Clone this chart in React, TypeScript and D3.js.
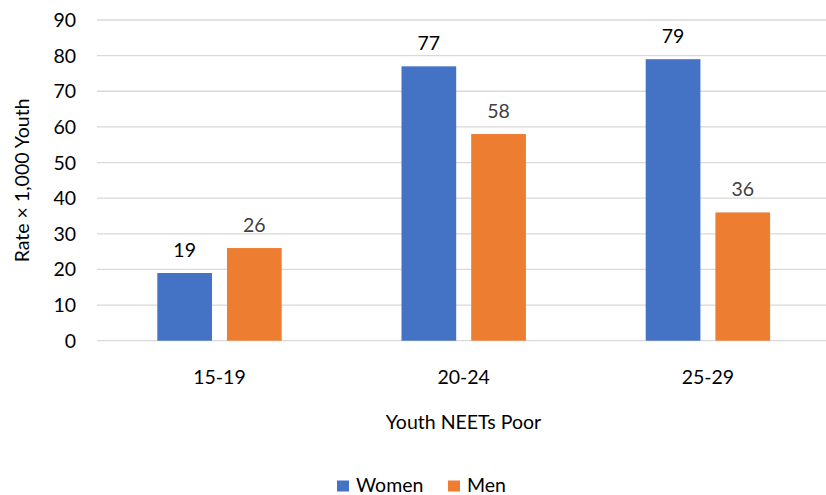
import React from "react";
import * as d3 from "d3";

const categories = ["15-19", "20-24", "25-29"];
const seriesNames = ["Women", "Men"];
const women = [19, 77, 79];
const men = [26, 58, 36];
const yTicks = [0, 10, 20, 30, 40, 50, 60, 70, 80, 90];

const colors: Record<string, string> = { Women: "#4472C4", Men: "#ED7D31" };
const labelColors: Record<string, string> = { Women: "#000000", Men: "#404040" };
const font = "Lato, 'Open Sans', sans-serif";
const fs = 19.5;

const App = () => {
  const width = 826;
  const height = 495;

  const x0 = d3.scaleBand<string>().domain(categories).range([97.4, 830]);
  const x1 = d3
    .scaleBand<string>()
    .domain(seriesNames)
    .range([59.9, 184.3])
    .paddingInner(0.215);
  const y = d3.scaleLinear().domain([0, 90]).range([340.7, 20]);

  const values: Record<string, number[]> = { Women: women, Men: men };

  return (
    <svg
      width={width}
      height={height}
      style={{ position: "absolute", left: 0, top: 0, background: "#fff" }}
      fontFamily={font}
    >
      {/* grid + y ticks */}
      {yTicks.map((t) => (
        <g key={t}>
          <line x1={97} x2={width} y1={y(t)} y2={y(t)} stroke="#d9d9d9" strokeWidth={1.3} />
          <text x={76} y={y(t)} dy="0.36em" textAnchor="end" fontSize={fs} fill="#000">
            {t}
          </text>
        </g>
      ))}

      {/* bars */}
      {categories.map((c, i) => (
        <g key={c} transform={`translate(${x0(c)},0)`}>
          {seriesNames.map((s) => {
            const v = values[s][i];
            const bx = x1(s) as number;
            return (
              <g key={s}>
                <rect
                  x={bx}
                  y={y(v)}
                  width={x1.bandwidth()}
                  height={y(0) - y(v)}
                  fill={colors[s]}
                />
                <text
                  x={bx + x1.bandwidth() / 2}
                  y={y(v) - 16}
                  textAnchor="middle"
                  fontSize={fs}
                  fill={labelColors[s]}
                >
                  {v}
                </text>
              </g>
            );
          })}
          <text
            x={x0.bandwidth() / 2}
            y={384}
            textAnchor="middle"
            fontSize={fs}
            fill="#000"
          >
            {c}
          </text>
        </g>
      ))}

      {/* axis titles */}
      <text
        transform={`translate(29,${(y(0) + y(90)) / 2}) rotate(-90)`}
        textAnchor="middle"
        fontSize={fs}
        fill="#000"
      >
        Rate × 1,000 Youth
      </text>
      <text x={463.5} y={429} textAnchor="middle" fontSize={fs} fill="#000">
        Youth NEETs Poor
      </text>

      {/* legend */}
      {seriesNames.map((s, i) => {
        const lx = i === 0 ? 337 : 448;
        return (
          <g key={s}>
            <rect x={lx} y={480.5} width={12} height={11} fill={colors[s]} />
            <text x={lx + 19} y={491.5} fontSize={fs} fill="#000">
              {s}
            </text>
          </g>
        );
      })}
    </svg>
  );
};

export default App;
